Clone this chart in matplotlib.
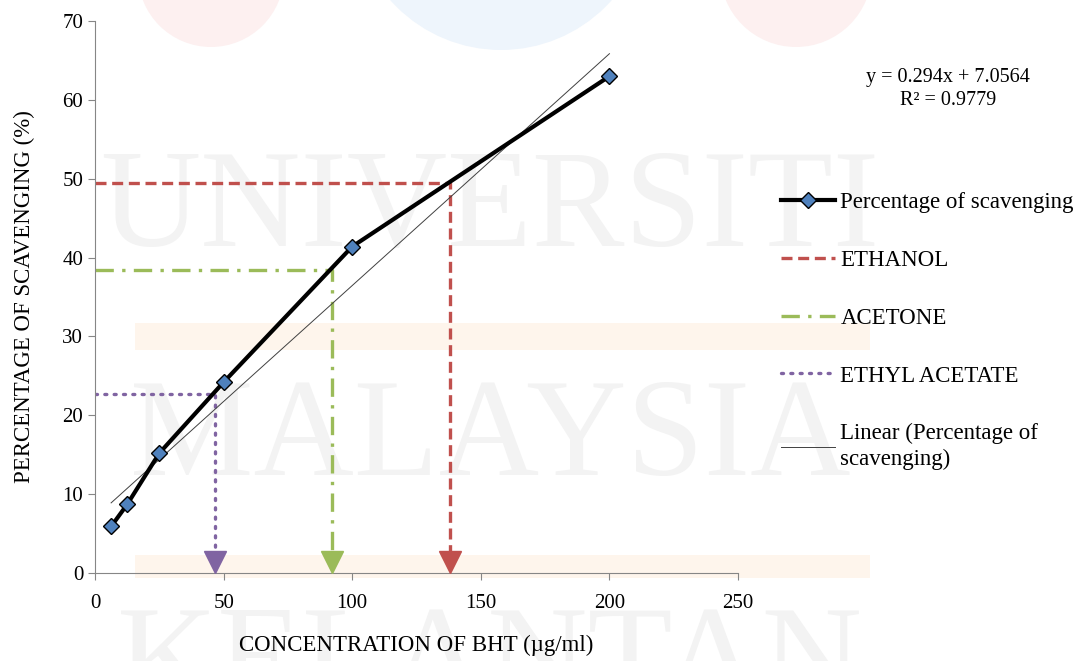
import numpy as np
import matplotlib.pyplot as plt
from matplotlib.patches import Circle, Rectangle

plt.rcParams['font.family'] = ['Liberation Serif', 'DejaVu Serif']

# data
conc = [6.25, 12.5, 25, 50, 100, 200]
scav = [5.9, 8.7, 15.2, 24.2, 41.4, 63.0]

slope, intercept = 0.294, 7.0564
r2 = 0.9779

solvents = ["ETHANOL", "ACETONE", "ETHYL ACETATE"]
solvent_x = [138.0, 92.0, 46.7]
solvent_y = [49.5, 38.4, 22.7]
solvent_colors = ["#c0504d", "#9bbb59", "#8064a2"]
solvent_dashes = [(3.3, 1.7), (5.5, 2.5, 1.0, 2.5), (0.6, 2.2)]

fig = plt.figure(figsize=(10.86, 6.61), dpi=100)

# faint watermark in the background
bg = fig.add_axes([0, 0, 1, 1], zorder=-1)
bg.set_xlim(0, 1086)
bg.set_ylim(661, 0)
bg.axis("off")
bg.add_patch(Circle((211, -26), 73, color="#fdf0f0", lw=0))
bg.add_patch(Circle((501, -98), 148, color="#eef5fc", lw=0))
bg.add_patch(Circle((796, -29), 76, color="#fdf0f0", lw=0))
bg.add_patch(Rectangle((135, 323), 735, 27, color="#fef5ec", lw=0))
bg.add_patch(Rectangle((135, 555), 735, 23, color="#fef5ec", lw=0))
for txt, yy in [("UNIVERSITI", 212), ("MALAYSIA", 442), ("KELANTAN", 668)]:
    bg.text(490, yy, txt, ha="center", va="center", fontsize=100,
            color="#f3f3f3", family="Liberation Serif")

ax = fig.add_axes([0.0875, 0.1331, 0.5921, 0.8351])
ax.set_facecolor("none")

for name, sx, sy, col, dsh in zip(solvents, solvent_x, solvent_y,
                                  solvent_colors, solvent_dashes):
    ax.plot([0, sx, sx], [sy, sy, 2.6], color=col, lw=2.4, dashes=dsh,
            dash_capstyle="round" if name == "ETHYL ACETATE" else "butt",
            label=name, zorder=2)
    ax.plot([sx], [1.4], marker="v", ms=16, color=col, ls="none",
            clip_on=False, zorder=3)

ax.plot(conc, scav, color="black", lw=3, marker="D", ms=8,
        mfc="#4f81bd", mec="black", mew=1.0, zorder=5,
        label="Percentage of scavenging")

tx = np.array([conc[0], conc[-1]])
ax.plot(tx, slope * tx + intercept, color="#404040", lw=0.7, zorder=4,
        label="Linear (Percentage of\nscavenging)")

ax.set_xlim(0, 250)
ax.set_ylim(0, 70)
ax.set_xticks(range(0, 251, 50))
ax.set_yticks(range(0, 71, 10))
ax.tick_params(labelsize=15, length=5, color="#868686", direction="out")
ax.tick_params(axis="x", pad=10)
for s in ["top", "right"]:
    ax.spines[s].set_visible(False)
for s in ["left", "bottom"]:
    ax.spines[s].set_color("#868686")

ax.set_xlabel("CONCENTRATION OF BHT (µg/ml)", fontsize=16.5, labelpad=16)
ax.set_ylabel("PERCENTAGE OF SCAVENGING (%)", fontsize=16.5, labelpad=20)

fig.text(0.873, 0.865, f"y = {slope}x + {intercept}\nR² = {r2}",
         ha="center", va="center", fontsize=14.5, linespacing=1.25)

h, l = ax.get_legend_handles_labels()
order = [3, 0, 1, 2, 4]
leg = ax.legend([h[i] for i in order], [l[i] for i in order],
                loc="upper left", bbox_to_anchor=(0.719, 0.709),
                bbox_transform=fig.transFigure, frameon=False, fontsize=16.5,
                handlelength=2.35, handletextpad=0.25, labelspacing=1.6,
                borderaxespad=0, borderpad=0)
leg.get_texts()[-1].set_linespacing(1.3)

fig.savefig("out.png", dpi=100)
